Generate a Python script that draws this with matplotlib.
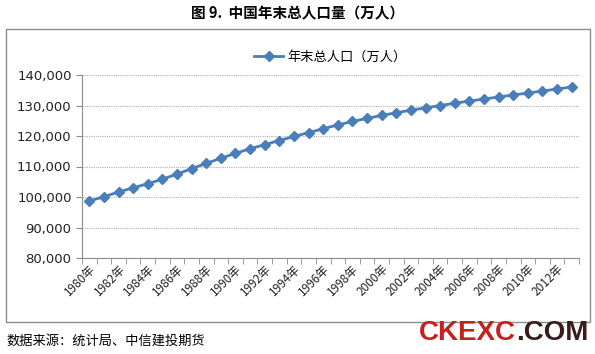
import matplotlib.pyplot as plt
from matplotlib.patches import Rectangle
from matplotlib import font_manager

plt.rcParams['font.family'] = ['Noto Sans CJK SC', 'DejaVu Sans']

years = list(range(1980, 2014))
population = [98705, 100072, 101654, 103008, 104357, 105851, 107507, 109300,
              111026, 112704, 114333, 115823, 117171, 118517, 119850, 121121,
              122389, 123626, 124761, 125786, 126743, 127627, 128453, 129227,
              129988, 130756, 131448, 132129, 132802, 133450, 134091, 134735,
              135404, 136072]
labels = [f"{y}年" for y in years]

W, H = 595, 354
fig = plt.figure(figsize=(W / 100, H / 100), dpi=100)

# outer chart frame
fig.patches.append(Rectangle((6 / W, 1 - 322 / H), 584 / W, 293 / H,
                             transform=fig.transFigure, fill=False,
                             edgecolor='#8c8c8c', linewidth=1.0))

ax = fig.add_axes([82 / W, 1 - 258 / H, 497 / W, 183 / H])
x = list(range(len(years)))
ax.plot(x, population, color='#4a7ebb', linewidth=2, marker='D',
        markersize=5.5, label='年末总人口（万人）')

ax.set_xlim(-0.5, len(years) - 0.5)
ax.set_ylim(80000, 140000)
ax.set_yticks(range(80000, 140001, 10000))
ax.set_yticklabels([f"{v:,}" for v in range(80000, 140001, 10000)],
                   fontsize=9.5, family='DejaVu Sans', color='#222222')
ax.yaxis.grid(True, linestyle=(0, (1, 1)), color='#b0b0b0', linewidth=0.8)
ax.set_axisbelow(True)

ax.set_xticks(x[::2])
ax.set_xticklabels(labels[::2], rotation=45, ha='right', va='top',
                   rotation_mode='anchor', fontsize=8.5, color='#222222')
ax.tick_params(axis='x', length=0, pad=3)
ax.set_xticks([i - 0.5 for i in range(len(years) + 1)], minor=True)
ax.tick_params(axis='x', which='minor', length=4, color='#8c8c8c')
ax.tick_params(axis='y', length=4, color='#8c8c8c')

for s in ['top', 'right']:
    ax.spines[s].set_visible(False)
for s in ['left', 'bottom']:
    ax.spines[s].set_color('#8c8c8c')

ax.legend(loc='upper center', bbox_to_anchor=(0.5, 1.2), frameon=False,
          fontsize=9.5, handlelength=2.2, handletextpad=0.3)

fig.text(0.5, 1 - 13 / H, '图 9.  中国年末总人口量（万人）', ha='center', va='center',
         fontsize=10.5, fontweight='bold')
fig.text(6 / W, 1 - 341 / H, '数据来源：统计局、中信建投期货', ha='left', va='center',
         fontsize=9.5)

names = {f.name for f in font_manager.fontManager.ttflist}
wm_font = 'Liberation Sans Narrow' if 'Liberation Sans Narrow' in names else 'Liberation Sans'
t = fig.text(419 / W, 1 - 333 / H, 'CKEXC', ha='left', va='center', fontsize=20,
             fontweight='bold', color='#c8201e', family=wm_font)
fig.canvas.draw()
bb = t.get_window_extent()
fig.text(bb.x1 / W, 1 - 333 / H, '.COM', ha='left', va='center', fontsize=20,
         fontweight='bold', color='#3a1c1c', family=wm_font)

fig.savefig('out.png', dpi=100)
